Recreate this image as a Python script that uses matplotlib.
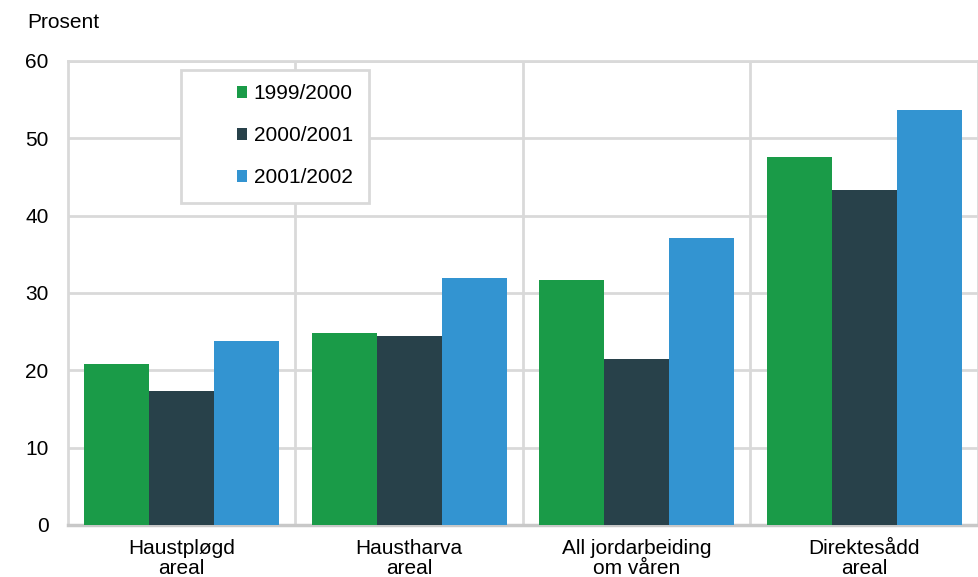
import numpy as np
import matplotlib.pyplot as plt
from matplotlib.patches import Patch, Rectangle

plt.rcParams['font.family'] = ['Liberation Sans', 'DejaVu Sans']

categories = ['Haustpløgd\nareal', 'Haustharva\nareal', 'All jordarbeiding\nom våren', 'Direktesådd\nareal']
seasons = ['1999/2000', '2000/2001', '2001/2002']
values = {
    '1999/2000': [20.8, 24.8, 31.7, 47.6],
    '2000/2001': [17.3, 24.4, 21.5, 43.3],
    '2001/2002': [23.8, 31.9, 37.1, 53.7],
}
colors = ['#1a9b48', '#28414a', '#3394d1']

grid_col = '#d9d9d9'
fs = 15

fig = plt.figure(figsize=(9.79, 5.77), dpi=100)
ax = fig.add_axes([68 / 979, 1 - 525 / 577, 910 / 979, 464 / 577])

x = np.arange(len(categories))
w = 0.286
for i, s in enumerate(seasons):
    ax.bar(x + (i - 1) * w, values[s], width=w, color=colors[i], zorder=3)

ax.set_xlim(-0.5, len(categories) - 0.5)
ax.set_ylim(0, 60)
ax.set_yticks(range(0, 61, 10))
ax.set_xticks(x)
ax.set_xticklabels(categories, fontsize=fs, linespacing=1.05)
ax.tick_params(axis='y', labelsize=fs, length=0, pad=14)
ax.tick_params(axis='x', length=0, pad=10)

# grid: horizontal at y ticks, vertical at category boundaries
ax.yaxis.grid(True, color=grid_col, linewidth=2, zorder=0)
for b in np.arange(0.5, len(categories) - 0.5, 1):
    ax.axvline(b, color=grid_col, linewidth=2, zorder=0)
for side in ['left', 'bottom', 'top', 'right']:
    ax.spines[side].set_color(grid_col)
    ax.spines[side].set_linewidth(2)
ax.spines['bottom'].set_color('#c8c8c8')
ax.spines['bottom'].set_linewidth(2.5)

fig.text(27 / 979, 1 - 22 / 577, 'Prosent', fontsize=fs, va='center', ha='left')

# legend frame drawn separately so it can be wider than its contents
frame = Rectangle((0.1242, 0.694), 0.2066, 0.2866, transform=ax.transAxes,
                  facecolor='white', edgecolor=grid_col, linewidth=2, zorder=4)
ax.add_patch(frame)

handles = [Patch(facecolor=c, label=s) for c, s in zip(colors, seasons)]
leg = ax.legend(handles=handles, loc='upper left', bbox_to_anchor=(0.1857, 0.95),
                fontsize=fs, frameon=False, handlelength=0.5,
                handleheight=0.5, handletextpad=0.3, labelspacing=1.1,
                borderpad=0, borderaxespad=0)
leg.set_zorder(5)

fig.savefig('out.png', dpi=100)
